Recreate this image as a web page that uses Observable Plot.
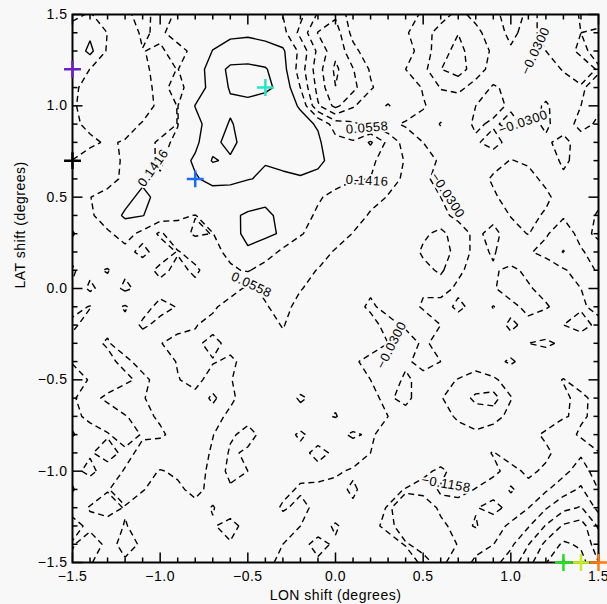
<!DOCTYPE html>
<html><head><meta charset="utf-8">
<script src="https://cdn.jsdelivr.net/npm/d3@7"></script>
<script src="https://cdn.jsdelivr.net/npm/@observablehq/plot@0.6"></script>
<style>
html,body{margin:0;padding:0;background:#f8f8f8;}
svg text{letter-spacing:0.5px;}
</style></head><body><div id="chart"></div>
<script>
// grid columns (LON shift, degrees, step 0.1) and rows (LAT shift, degrees, top to bottom)
const lonShift = [-1.5,-1.4,-1.3,-1.2,-1.1,-1.0,-0.9,-0.8,-0.7,-0.6,-0.5,-0.4,-0.3,-0.2,-0.1,0.0,0.1,0.2,0.3,0.4,0.5,0.6,0.7,0.8,0.9,1.0,1.1,1.2,1.3,1.4,1.5];
const latShift = [1.5,1.4,1.3,1.2,1.1,1.0,0.9,0.8,0.7,0.6,0.5,0.4,0.3,0.2,0.1,0.0,-0.1,-0.2,-0.3,-0.4,-0.5,-0.6,-0.7,-0.8,-0.9,-1.0,-1.1,-1.2,-1.3,-1.4,-1.5];
// correlation values in hundredths, one row per latShift
const corrRows = [
 [12,15,9,13,16,12,15,19,17,20,16,19,14,8,-4,-10,2,4,-1,3,-5,-8,-14,-9,-6,2,-5,-1,3,-4,-6],
 [18,21,14,11,15,13,17,20,19,21,22,20,17,3,-12,-16,0,5,2,-2,-8,-15,-20,-14,-7,-1,-6,0,4,-3,-2],
 [16,25,13,10,14,15,12,16,23,26,25,26,24,12,-5,-18,-6,3,4,0,-6,-18,-22,-17,-10,-4,-8,-3,1,-5,0],
 [20,14,11,9,13,16,14,18,27,33,34,32,26,10,-8,-22,-12,-2,3,-3,-9,-20,-24,-16,-8,-3,-6,-9,-2,2,-4],
 [17,9,8,7,12,16,12,18,26,32,34,33,29,14,-6,-20,-14,-4,2,5,-4,-12,-14,-8,-2,-5,-3,-6,-9,-4,0],
 [16,8,6,7,9,17,14,23,27,30,29,27,26,22,-2,-14,-4,3,6,2,-2,-8,-6,-3,-1,-4,-6,-2,-7,-3,-2],
 [16,12,7,10,15,18,14,20,27,32,28,26,27,25,22,10,7,3,-1,-4,-7,-12,-6,-2,-4,-1,-5,-2,-6,-1,-4],
 [18,16,13,15,17,13,15,21,29,34,27,25,26,28,24,17,15,24,12,2,-3,-8,-10,-4,0,-6,-9,-4,-1,-6,-3],
 [14,10,12,15,17,13,19,24,32,30,24,23,25,26,25,19,15,16,10,5,0,-4,-7,-3,-8,-12,-10,-6,-2,-5,-8],
 [13,8,11,16,21,15,17,22,25,26,23,22,21,22,20,17,15,14,9,4,-1,-6,-3,-7,-13,-18,-15,-9,-4,-7,-5],
 [12,14,17,20,25,20,17,22,19,16,18,20,22,18,15,12,8,10,5,3,0,-3,-6,-4,-10,-16,-20,-14,-6,-3,-5],
 [10,13,18,24,23,19,15,14,17,21,24,25,20,17,13,8,12,4,2,1,-2,-1,-5,-8,-6,-12,-15,-10,-4,-7,-2],
 [15,8,13,17,12,4,12,15,14,18,26,24,22,15,10,13,5,1,-1,-2,4,8,1,-5,0,-8,-12,-4,2,-6,-1],
 [10,14,6,12,16,11,5,9,12,16,21,19,12,8,12,4,2,3,-1,0,7,9,3,-6,-2,-9,-4,0,6,-2,-7],
 [4,12,15,7,10,3,8,4,10,13,15,10,7,10,5,3,4,1,-2,2,3,7,-1,-7,-4,-1,-5,-9,-4,1,-4],
 [7,16,10,4,8,9,14,8,11,9,4,7,12,6,3,5,2,-2,1,-3,-2,1,-5,-10,-4,2,-2,-6,-8,-3,2],
 [9,5,11,15,9,3,6,10,7,2,0,5,8,3,0,4,-1,-4,-1,1,-4,-7,-1,-6,-12,-6,0,-2,-7,-4,-1],
 [3,11,7,12,4,8,9,6,3,1,-2,3,6,2,-2,1,-3,-1,-5,-2,2,-3,-8,-4,-8,-1,-6,-10,-3,0,-5],
 [10,7,5,9,11,6,2,4,8,3,0,-1,4,0,2,-1,0,0,-3,-6,-2,-5,-3,-8,-4,-7,-3,-1,-5,-8,-4],
 [6,9,7,4,8,10,5,1,5,7,3,-2,1,-3,-1,3,-2,-5,-8,-4,-1,-3,-6,-9,-5,-2,-6,-10,-6,-3,-6],
 [3,6,10,7,4,8,6,3,9,6,2,5,-2,1,5,2,0,-3,-6,-2,-5,-9,-12,-14,-13,-8,-4,-8,-12,-7,-3],
 [5,8,4,1,5,9,7,8,16,8,0,3,1,-4,-1,4,1,-2,-4,-1,-7,-11,-16,-22,-24,-12,-6,-3,-10,-14,-8],
 [4,7,10,6,3,7,11,13,10,3,-1,2,-2,0,4,6,2,-1,-3,-6,-3,-8,-13,-16,-15,-9,-5,-7,-11,-13,-9],
 [6,3,5,9,5,4,9,13,6,-2,-5,-1,2,7,2,-1,-4,-2,-6,-9,-5,-4,-8,-10,-7,-4,-9,-13,-16,-10,-6],
 [2,5,8,4,7,12,6,12,4,-4,-2,1,-1,3,8,4,1,-3,-5,-8,-11,-7,-5,-9,-12,-8,-6,-10,-15,-19,-12],
 [4,7,3,6,9,5,7,11,2,-5,-3,0,-2,-1,3,-2,-4,-7,-3,-6,-10,-13,-9,-6,-10,-14,-10,-13,-18,-24,-16],
 [6,2,5,10,6,3,4,8,3,-2,0,-3,-1,-4,-7,-5,-2,-6,-9,-12,-14,-11,-8,-12,-15,-11,-14,-19,-25,-30,-20],
 [3,6,9,5,2,4,1,3,6,2,-3,1,-4,-1,-5,-8,-4,-9,-12,-10,-7,-13,-16,-12,-9,-14,-20,-28,-35,-38,-26],
 [8,4,2,6,3,0,3,-1,5,8,3,-2,1,-3,-6,-2,-7,-10,-13,-9,-6,-10,-14,-11,-16,-22,-28,-38,-47,-50,-36],
 [5,9,4,7,5,-1,1,4,2,5,0,3,-3,-5,-1,-4,-8,-5,-9,-12,-10,-7,-12,-17,-20,-27,-37,-48,-56,-53,-41],
 [7,6,3,5,2,-2,3,1,-3,2,-2,0,-6,-3,-4,-7,-5,-9,-11,-8,-13,-10,-15,-22,-26,-33,-43,-54,-64,-58,-46]
];
const dashedLevels = [-0.6306,-0.5448,-0.4590,-0.3732,-0.2874,-0.2016,-0.1158,-0.0300,0.0558,0.1416];
const solidLevels = [0.2274,0.3132];

const xTicks = [-1.5,-1.0,-0.5,0.0,0.5,1.0,1.5];
const xTickLabels = ["\u22121.5","\u22121.0","\u22120.5","0.0","0.5","1.0","1.5"];
const yTicks = [-1.5,-1.0,-0.5,0.0,0.5,1.0,1.5];
const yTickLabels = ["\u22121.5","\u22121.0","\u22120.5","0.0","0.5","1.0","1.5"];
const minorTicks = [-1.4,-1.3,-1.2,-1.1,-0.9,-0.8,-0.7,-0.6,-0.4,-0.3,-0.2,-0.1,0.1,0.2,0.3,0.4,0.6,0.7,0.8,0.9,1.1,1.2,1.3,1.4];

const labelText = ["0.1416","0.0558","0.1416","0.0558","\u22120.0300","\u22120.0300","\u22120.0300","\u22120.0300","\u22120.1158"];
const labelLon = [-1.04,0.18,0.18,-0.48,1.14,1.07,0.64,0.32,0.63];
const labelLat = [0.66,0.88,0.59,0.02,1.30,0.91,0.51,-0.31,-1.07];
const labelAngle = [-55,-5,3,25,-65,-19,57,-63,10];

const markLon = [-1.5,-1.5,-0.8,-0.4,1.3,1.4,1.5];
const markLat = [1.2,0.7,0.6,1.1,-1.5,-1.5,-1.5];
const markColor = ["#6a1fc8","#000000","#1a6cff","#22e8c8","#22e022","#c4f020","#ff7a10"];

const xLabel = "LON shift (degrees)";
const yLabel = "LAT shift (degrees)";

// build tables
const values = corrRows.flat().map(v => v / 100);
const stepX = lonShift[1]-lonShift[0];
const stepY = latShift[0]-latShift[1];
const gridOpts = {
  value: d => d,
  width: lonShift.length, height: latShift.length,
  x1: lonShift[0]-stepX/2, x2: lonShift[lonShift.length-1]+stepX/2,
  y1: latShift[0]+stepY/2, y2: latShift[latShift.length-1]-stepY/2,
  fill: "none", stroke: "black", strokeWidth: 1.4, clip: true
};
const labels = labelText.map((t,i)=>({text:t, lon:labelLon[i], lat:labelLat[i], angle:labelAngle[i]}));
const markers = markColor.map((c,i)=>({lon:markLon[i], lat:markLat[i], color:c}));
const xFmt = d => xTickLabels[xTicks.indexOf(d)];
const yFmt = d => yTickLabels[yTicks.indexOf(d)];
const font = "'Liberation Sans', Arial, sans-serif";

const W = 607, H = 604, ML = 72, MR = 9, MT = 14, MB = 42;
const FW = W - ML - MR, FH = H - MT - MB;
const xMin = xTicks[0], xMax = xTicks[xTicks.length-1];
const yMin = yTicks[0], yMax = yTicks[yTicks.length-1];
const dX = (xMax - xMin) / FW, dY = (yMax - yMin) / FH;   // degrees per pixel
const major = 10, minor = 5;
// inward tick segments on all four sides, built from the tick arrays
const tickSegs = [];
for (const [arr, len] of [[xTicks, major], [minorTicks, minor]]) {
  for (const v of arr) {
    tickSegs.push({x1: v, x2: v, y1: yMin, y2: yMin + len*dY});
    tickSegs.push({x1: v, x2: v, y1: yMax, y2: yMax - len*dY});
  }
}
for (const [arr, len] of [[yTicks, major], [minorTicks, minor]]) {
  for (const v of arr) {
    tickSegs.push({y1: v, y2: v, x1: xMin, x2: xMin + len*dX});
    tickSegs.push({y1: v, y2: v, x1: xMax, x2: xMax - len*dX});
  }
}

const chart = Plot.plot({
  width: W, height: H,
  marginLeft: ML, marginRight: MR, marginTop: MT, marginBottom: MB,
  style: {background: "#f8f8f8", fontFamily: font, fontSize: "14px", color: "black"},
  x: {domain: [xMin, xMax]},
  y: {domain: [yMin, yMax]},
  marks: [
    Plot.contour(values, {...gridOpts, thresholds: dashedLevels, strokeDasharray: "6,4"}),
    Plot.contour(values, {...gridOpts, thresholds: solidLevels}),
    Plot.text(labels, {x:"lon", y:"lat", text:"text", rotate:"angle", fontSize: 13, fill:"black",
      stroke:"#f8f8f8", strokeWidth: 4, paintOrder:"stroke"}),
    Plot.axisX(xTicks, {anchor:"bottom", tickSize:0, tickPadding:9, tickFormat:xFmt, fontSize:14, label:null}),
    Plot.axisY(yTicks, {anchor:"left", tickSize:0, tickPadding:5, tickFormat:yFmt, fontSize:14, label:null}),
    Plot.frame({stroke:"black", strokeWidth:2}),
    Plot.link(tickSegs, {x1:"x1", y1:"y1", x2:"x2", y2:"y2", stroke:"black", strokeWidth:1.5}),
    Plot.text([xLabel], {text:d=>d, frameAnchor:"bottom", dy:33, fontSize:14, lineAnchor:"middle"}),
    Plot.text([yLabel], {text:d=>d, frameAnchor:"left", dx:-52, rotate:-90, fontSize:14, lineAnchor:"middle"}),
    Plot.dot(markers, {x:"lon", y:"lat", stroke:"color", symbol:"plus", r:5.5, strokeWidth:2.5})
  ]
});
document.getElementById("chart").appendChild(chart);
</script></body></html>
